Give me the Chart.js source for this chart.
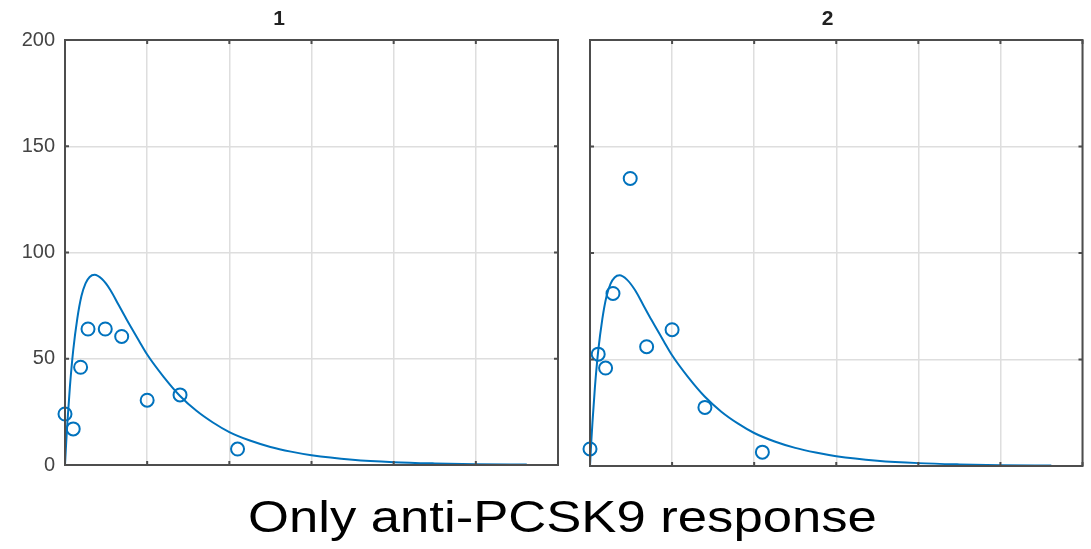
<!DOCTYPE html>
<html>
<head>
<meta charset="utf-8">
<script src="https://cdn.jsdelivr.net/npm/chart.js@4.4.0/dist/chart.umd.min.js"></script>
<style>
body{margin:0;background:#fff;width:1091px;height:549px;overflow:hidden;position:relative;font-family:"Liberation Sans",Arial,sans-serif;}
#c1{position:absolute;left:0;top:0;}
#c2{position:absolute;left:572px;top:0;}
#caption{position:absolute;left:248px;top:495px;font-size:44px;line-height:1;white-space:nowrap;transform-origin:0 0;color:#000;}
</style>
</head>
<body>
<canvas id="c1" width="572" height="487"></canvas>
<canvas id="c2" width="519" height="480"></canvas>
<div id="caption">Only anti-PCSK9 response</div>
<script>
// data
var panelTitles = ["1", "2"];
var yTickValues = [0, 50, 100, 150, 200];
var sampleTimes = [0, 0.1, 0.19, 0.28, 0.49, 0.69, 1.0, 1.4, 2.1];
var panel1Values = [24, 17, 46, 64, 64, 60.5, 30.5, 33, 7.5];
var panel2Values = [8, 52.5, 46, 81, 135, 56, 64, 27.5, 6.5];
// fitted curve (same in both panels)
var curveTimes = [0, 0.015, 0.03, 0.06, 0.1, 0.15, 0.2, 0.25, 0.3, 0.36, 0.45, 0.55, 0.65, 0.75, 0.9, 1.0, 1.2, 1.4, 1.6, 1.8, 2.0, 2.25, 2.5, 2.75, 3.0, 3.5, 4.0, 4.5, 5.0, 5.62];
var curveValues = [0, 11, 20.5, 37, 54, 69, 79.5, 85.5, 88.5, 89.5, 87.5, 82.5, 75.5, 68.5, 58.5, 52, 41.5, 32.5, 25.5, 20, 15.5, 11.5, 8.5, 6.3, 4.6, 2.5, 1.35, 0.75, 0.4, 0.2];

var blue = "#0072BD";

function toXY(xs, ys){
	var out = [];
	for (var i in xs) {
		out.push({x: xs[i], y: ys[i]});
	}
	return out;
}

// dark box round the plot with inward tick marks
var framePlugin = {
	id: "frame",
	afterDraw: function(chart){
		var a = chart.chartArea, ctx = chart.ctx;
		var xs = chart.scales.x, ys = chart.scales.y;
		ctx.save();
		ctx.strokeStyle = "#4d4d4d";
		ctx.lineWidth = 2;
		ctx.beginPath();
		xs.ticks.forEach(function(t){
			var px = xs.getPixelForValue(t.value);
			ctx.moveTo(px, a.top); ctx.lineTo(px, a.top + 4);
			ctx.moveTo(px, a.bottom); ctx.lineTo(px, a.bottom - 4);
		});
		ys.ticks.forEach(function(t){
			var py = ys.getPixelForValue(t.value);
			ctx.moveTo(a.left, py); ctx.lineTo(a.left + 4, py);
			ctx.moveTo(a.right, py); ctx.lineTo(a.right - 4, py);
		});
		ctx.stroke();
		ctx.strokeRect(a.left, a.top, a.right - a.left, a.bottom - a.top);
		ctx.restore();
	}
};

function makePanel(id, idx, values, showLabels, yWidth, padRight){
	var ctx = document.getElementById(id);
	return new Chart(ctx, {
		type: "scatter",
		data: {
			datasets: [
				{
					label: "fit",
					type: "line",
					data: toXY(curveTimes, curveValues),
					borderColor: blue,
					borderWidth: 2,
					pointRadius: 0,
					fill: false,
					cubicInterpolationMode: "monotone",
					clip: false
				},
				{
					label: "data",
					data: toXY(sampleTimes, values),
					borderColor: blue,
					backgroundColor: "rgba(0,0,0,0)",
					pointRadius: 6.5,
					pointBorderWidth: 2,
					clip: false
				}
			]
		},
		options: {
			responsive: false,
			animation: false,
			layout: { padding: { left: 0, right: padRight, top: 0, bottom: 14 } },
			plugins: {
				legend: { display: false },
				tooltip: { enabled: false },
				title: {
					display: true,
					text: panelTitles[idx],
					color: "#222",
					font: { family: "Liberation Sans", size: 21, weight: "bold" },
					padding: { top: 7, bottom: 7.8 }
				}
			},
			scales: {
				x: {
					type: "linear",
					min: 0, max: 6,
					ticks: { display: false, stepSize: 1 },
					grid: { color: "#dedede", lineWidth: 1.5, drawTicks: false },
					border: { display: false },
					afterFit: function(s){ s.height = 0; }
				},
				y: {
					min: 0, max: 200,
					afterBuildTicks: function(s){ s.ticks = yTickValues.map(function(v){ return {value: v}; }); },
					ticks: {
						display: showLabels,
						padding: 10,
						color: "#444",
						font: { family: "Liberation Sans", size: 20 }
					},
					grid: { color: "#dedede", lineWidth: 1.5, drawTicks: false },
					border: { display: false },
					afterFit: function(s){ s.width = yWidth; }
				}
			}
		},
		plugins: [framePlugin]
	});
}

makePanel("c1", 0, panel1Values, true, 65, 14);
makePanel("c2", 1, panel2Values, false, 18, 8);

// caption is wider than plain Arial in the reference
var cap = document.getElementById("caption");
cap.style.transform = "scaleX(" + (629 / cap.offsetWidth) + ")";
</script>
</body>
</html>
